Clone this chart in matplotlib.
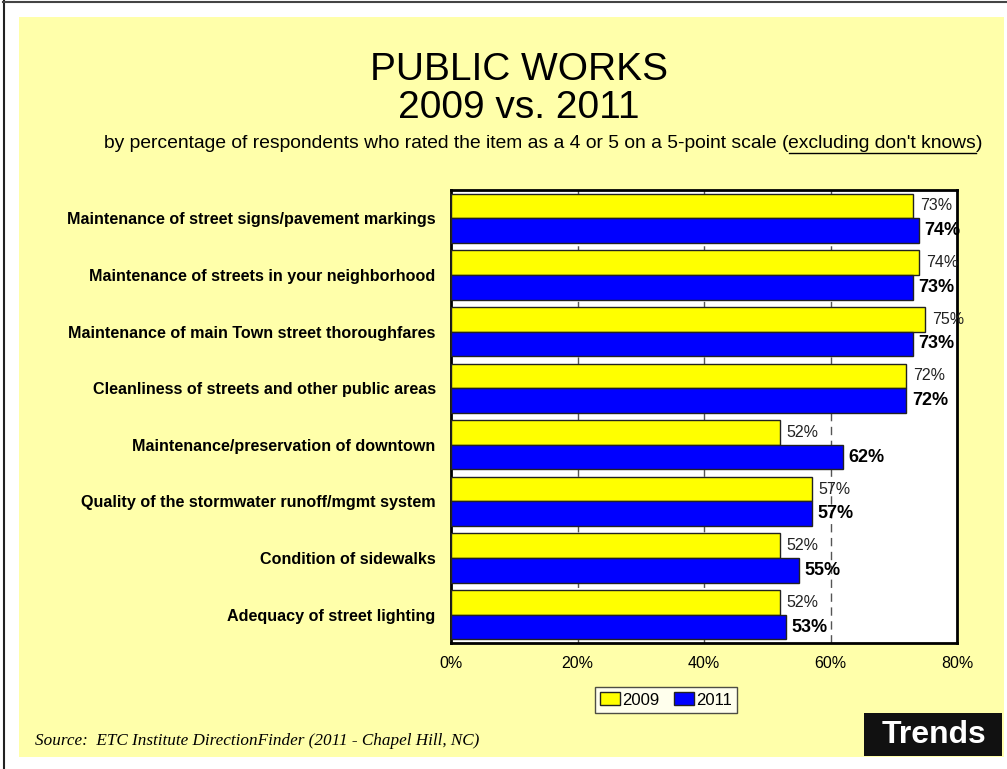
import matplotlib
matplotlib.use("Agg")
import matplotlib.pyplot as plt
from matplotlib.patches import Rectangle, Patch
import numpy as np

# ---- data ----
categories = [
    "Maintenance of street signs/pavement markings",
    "Maintenance of streets in your neighborhood",
    "Maintenance of main Town street thoroughfares",
    "Cleanliness of streets and other public areas",
    "Maintenance/preservation of downtown",
    "Quality of the stormwater runoff/mgmt system",
    "Condition of sidewalks",
    "Adequacy of street lighting",
]
values_2009 = [73, 74, 75, 72, 52, 57, 52, 52]
values_2011 = [74, 73, 73, 72, 62, 57, 55, 53]
series_names = ["2009", "2011"]
x_ticks = [0, 20, 40, 60, 80]
x_tick_labels = ["0%", "20%", "40%", "60%", "80%"]

W, H = 1007, 769
fig = plt.figure(figsize=(W / 100, H / 100), dpi=100, facecolor="white")

SANS = ["Liberation Sans", "DejaVu Sans"]
NARROW = ["Liberation Sans Narrow", "Liberation Sans", "DejaVu Sans"]

def fx(px):
    return px / W

def fy(py):
    return 1 - py / H

# page background panel and frame
fig.patches.append(Rectangle((fx(19), fy(757)), fx(1004) - fx(19), fy(17) - fy(757),
                             transform=fig.transFigure, facecolor="#FFFFAA",
                             edgecolor="none", zorder=-5))
fig.add_artist(plt.Line2D([fx(3.5), fx(3.5)], [0, fy(1)], transform=fig.transFigure,
                          color="#222222", lw=1.5))
fig.add_artist(plt.Line2D([fx(3), 1], [fy(1.5), fy(1.5)], transform=fig.transFigure,
                          color="#444444", lw=1.5))

# titles
fig.text(fx(519), fy(70), "PUBLIC WORKS", ha="center", va="center",
         fontsize=28, family=NARROW)
fig.text(fx(519), fy(108), "2009 vs. 2011", ha="center", va="center",
         fontsize=28, family=NARROW)
SUB_FS = 13.9
sub_a = "by percentage of respondents who rated the item as a 4 or 5 on a 5-point scale ("
sub_b = "excluding don't knows"
t1 = fig.text(fx(104), fy(143), sub_a, ha="left", va="center", fontsize=SUB_FS, family=NARROW)
fig.canvas.draw()
r = fig.canvas.get_renderer()
bb = t1.get_window_extent(r)
t2 = fig.text(bb.x1 / W, fy(143), sub_b, ha="left", va="center", fontsize=SUB_FS, family=NARROW)
bb2 = t2.get_window_extent(r)
fig.add_artist(plt.Line2D([bb2.x0 / W, bb2.x1 / W], [fy(153), fy(153)],
                          transform=fig.transFigure, color="black", lw=1))
fig.text(bb2.x1 / W, fy(143), ")", ha="left", va="center", fontsize=SUB_FS, family=NARROW)

# ---- bar chart ----
ax = fig.add_axes([fx(451), fy(643), fx(957) - fx(451), fy(190) - fy(643)])
ax.set_zorder(2)
ax.set_facecolor("white")
n = len(categories)
y = np.arange(n)
h = 0.435
ax.barh(y - h / 2, values_2009, height=h, color="#FFFF00", edgecolor="#222222",
        lw=1, zorder=3, label=series_names[0])
ax.barh(y + h / 2, values_2011, height=h, color="#0000FF", edgecolor="#222222",
        lw=1, zorder=3, label=series_names[1])

for i in range(n):
    ax.text(values_2009[i] + 1.1, y[i] - h / 2, f"{values_2009[i]}%", ha="left",
            va="center", fontsize=11.5, family=SANS, color="#222222", zorder=4)
    ax.text(values_2011[i] + 0.9, y[i] + h / 2, f"{values_2011[i]}%", ha="left",
            va="center", fontsize=13, fontweight="bold", family=SANS, zorder=4)

for xv in x_ticks[1:-1]:
    ax.axvline(xv, color="#555555", lw=1, ls=(0, (6, 4)), zorder=1)

ax.set_xlim(0, 80)
ax.set_ylim(n - 0.5, -0.5)
ax.set_xticks(x_ticks)
ax.set_xticklabels(x_tick_labels, family=SANS, fontsize=11.5)
ax.tick_params(axis="x", length=0, pad=9)
ax.set_yticks(y)
ax.set_yticklabels(categories, family=SANS, fontsize=11.6, fontweight="bold")
ax.tick_params(axis="y", length=0, pad=11)
for s in ax.spines.values():
    s.set_color("black")
    s.set_linewidth(2)

handles = [Patch(facecolor="#FFFF00", edgecolor="#222222"),
           Patch(facecolor="#0000FF", edgecolor="#222222")]
leg = fig.legend(handles, series_names, loc="center", bbox_to_anchor=(fx(666), fy(700)),
                 ncol=2, frameon=True, fancybox=False, edgecolor="#222222",
                 facecolor="white", prop={"family": SANS, "size": 12},
                 handlelength=1.2, handleheight=0.8, handletextpad=0.1,
                 columnspacing=0.9, borderpad=0.3, borderaxespad=0)
leg.get_frame().set_linewidth(1)

# footer
fig.text(fx(35), fy(741), "Source:  ETC Institute DirectionFinder (2011 - Chapel Hill, NC)",
         ha="left", va="center", fontsize=12.3, style="italic",
         family=["Liberation Serif", "DejaVu Serif"])
fig.patches.append(Rectangle((fx(864), fy(756)), fx(1002) - fx(864), fy(713) - fy(756),
                             transform=fig.transFigure, facecolor="#111111",
                             edgecolor="none", zorder=1))
fig.text(fx(934), fy(735), "Trends", ha="center", va="center", fontsize=23,
         fontweight="bold", color="white", family=SANS, zorder=2)

fig.savefig("out.png", dpi=100, facecolor="white")
